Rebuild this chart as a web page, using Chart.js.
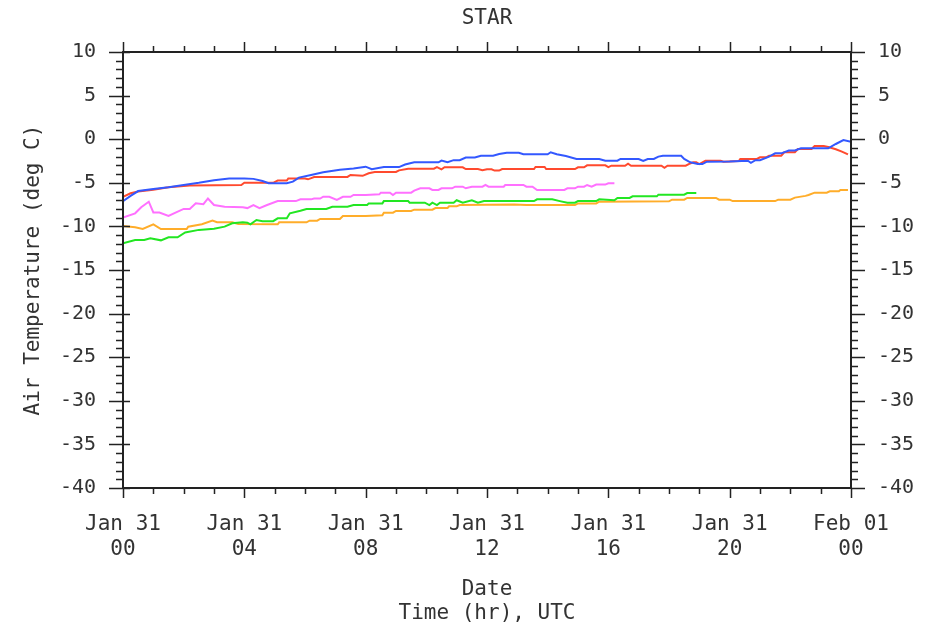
<!DOCTYPE html>
<html>
<head>
<meta charset="utf-8">
<script src="https://cdn.jsdelivr.net/npm/chart.js@4"></script>
<style>
  html, body { margin: 0; padding: 0; background: #fff; }
  #wrap { width: 930px; height: 638px; }
</style>
</head>
<body>
<div id="wrap"><canvas id="c" width="930" height="638"></canvas></div>
<script>
// x axis is hours since Jan 31 00 UTC
const xTickDays = ['Jan 31', 'Jan 31', 'Jan 31', 'Jan 31', 'Jan 31', 'Jan 31', 'Feb 01'];
const xTickHours = ['00', '04', '08', '12', '16', '20', '00'];

const blueHours = [0, 0.25, 0.5, 1, 1.5, 2, 2.5, 3, 3.5, 4, 4.3, 4.6, 4.8, 5.4, 5.6, 5.8, 6.2, 6.6, 7.15, 7.6, 8, 8.2, 8.6, 9.1, 9.3, 9.6, 10.4, 10.5, 10.7, 10.9, 11.1, 11.3, 11.6, 11.8, 12.2, 12.4, 12.65, 13.05, 13.2, 14, 14.1, 14.3, 14.6, 14.95, 15.7, 15.9, 16.3, 16.4, 17, 17.15, 17.3, 17.5, 17.65, 17.8, 18.4, 18.5, 18.7, 18.95, 19.1, 19.25, 20, 20.6, 20.7, 20.85, 21, 21.3, 21.5, 21.7, 21.95, 22.15, 22.35, 23.25, 23.5, 23.75, 24];
const blueTemps = [-7.1, -6.5, -5.95, -5.7, -5.5, -5.25, -5.0, -4.7, -4.5, -4.5, -4.55, -4.8, -5.05, -5.05, -4.87, -4.4, -4.1, -3.8, -3.5, -3.35, -3.15, -3.45, -3.2, -3.2, -2.9, -2.65, -2.65, -2.45, -2.65, -2.4, -2.4, -2.1, -2.1, -1.9, -1.9, -1.7, -1.55, -1.55, -1.73, -1.73, -1.5, -1.73, -1.93, -2.27, -2.27, -2.47, -2.47, -2.27, -2.27, -2.5, -2.27, -2.27, -2.0, -1.9, -1.9, -2.27, -2.65, -2.85, -2.85, -2.58, -2.55, -2.47, -2.7, -2.4, -2.4, -2.0, -1.62, -1.62, -1.3, -1.3, -1.05, -1.05, -0.55, -0.1, -0.3];

const redHours = [0, 0.25, 0.5, 1, 1.5, 2.2, 3.9, 4, 4.95, 5.1, 5.4, 5.45, 6, 6.1, 6.3, 7.4, 7.5, 7.9, 8.1, 8.3, 9, 9.1, 9.4, 10.25, 10.35, 10.5, 10.6, 11.2, 11.3, 11.7, 11.85, 12, 12.15, 12.25, 12.4, 12.5, 13.55, 13.6, 13.9, 13.95, 14.9, 15, 15.2, 15.3, 15.9, 16, 16.1, 16.55, 16.65, 16.75, 17.75, 17.85, 17.95, 18.55, 18.65, 18.8, 18.9, 19, 19.2, 19.7, 19.8, 20.3, 20.35, 20.9, 21, 21.2, 21.3, 21.7, 21.8, 22.15, 22.25, 22.7, 22.8, 23.1, 23.25, 23.5, 23.7, 23.9];
const redTemps = [-6.6, -6.2, -6.0, -5.8, -5.5, -5.3, -5.25, -5.0, -5.0, -4.75, -4.75, -4.5, -4.5, -4.6, -4.33, -4.33, -4.1, -4.2, -3.9, -3.76, -3.76, -3.57, -3.38, -3.38, -3.19, -3.45, -3.22, -3.22, -3.42, -3.42, -3.57, -3.45, -3.45, -3.6, -3.6, -3.42, -3.42, -3.19, -3.19, -3.42, -3.42, -3.22, -3.22, -3.0, -3.0, -3.2, -3.04, -3.04, -2.8, -3.04, -3.04, -3.27, -3.04, -3.04, -2.85, -2.65, -2.65, -2.85, -2.47, -2.47, -2.58, -2.5, -2.27, -2.27, -2.08, -2.08, -1.9, -1.9, -1.5, -1.5, -1.12, -1.12, -0.78, -0.78, -0.9, -1.16, -1.43, -1.75];

const pinkHours = [0, 0.4, 0.6, 0.85, 1, 1.2, 1.5, 1.75, 2, 2.2, 2.4, 2.65, 2.8, 3, 3.35, 3.95, 4.1, 4.3, 4.5, 4.75, 5.1, 5.7, 5.85, 6.2, 6.3, 6.5, 6.6, 6.8, 7.05, 7.25, 7.5, 7.6, 8, 8.45, 8.5, 8.8, 8.9, 9, 9.5, 9.6, 9.8, 10.1, 10.2, 10.4, 10.5, 10.85, 10.95, 11.2, 11.3, 11.5, 11.85, 11.95, 12.05, 12.55, 12.6, 13.2, 13.3, 13.5, 13.65, 14.55, 14.65, 14.9, 15, 15.2, 15.3, 15.45, 15.6, 15.9, 16, 16.2];
const pinkTemps = [-9.0, -8.5, -7.8, -7.17, -8.4, -8.4, -8.8, -8.4, -8.0, -8.0, -7.35, -7.45, -6.8, -7.55, -7.74, -7.8, -7.9, -7.55, -7.9, -7.55, -7.1, -7.1, -6.9, -6.9, -6.8, -6.8, -6.6, -6.6, -6.95, -6.6, -6.6, -6.4, -6.4, -6.32, -6.13, -6.13, -6.4, -6.13, -6.13, -5.9, -5.63, -5.63, -5.82, -5.82, -5.63, -5.63, -5.45, -5.45, -5.63, -5.45, -5.45, -5.25, -5.45, -5.45, -5.25, -5.25, -5.45, -5.45, -5.82, -5.82, -5.63, -5.63, -5.45, -5.45, -5.25, -5.45, -5.2, -5.2, -5.05, -5.05];

const greenHours = [0, 0.4, 0.7, 0.9, 1.25, 1.5, 1.8, 2.05, 2.5, 3, 3.35, 3.6, 3.95, 4.1, 4.2, 4.4, 4.6, 4.95, 5.1, 5.4, 5.5, 5.85, 6.05, 6.7, 6.9, 7.4, 7.6, 8.05, 8.1, 8.55, 8.6, 9.4, 9.45, 9.95, 10.1, 10.2, 10.35, 10.45, 10.9, 11, 11.2, 11.5, 11.7, 11.9, 13.55, 13.65, 14.15, 14.4, 14.65, 14.9, 15, 15.6, 15.7, 16.2, 16.3, 16.7, 16.8, 17.6, 17.65, 18.5, 18.6, 18.9];
const greenTemps = [-11.94, -11.56, -11.56, -11.37, -11.6, -11.25, -11.25, -10.7, -10.4, -10.26, -10.03, -9.65, -9.53, -9.57, -9.76, -9.27, -9.4, -9.4, -9.07, -9.07, -8.5, -8.2, -8.0, -8.0, -7.74, -7.74, -7.55, -7.55, -7.36, -7.36, -7.1, -7.1, -7.28, -7.28, -7.55, -7.28, -7.55, -7.28, -7.28, -7.0, -7.28, -7.0, -7.28, -7.1, -7.1, -6.9, -6.9, -7.1, -7.28, -7.28, -7.1, -7.1, -6.9, -7.0, -6.74, -6.74, -6.55, -6.55, -6.36, -6.36, -6.17, -6.17];

const orangeHours = [0, 0.4, 0.65, 1, 1.25, 2.1, 2.15, 2.6, 2.95, 3.1, 3.6, 3.8, 5.1, 5.15, 6.05, 6.15, 6.4, 6.5, 7.15, 7.25, 8, 8.55, 8.6, 8.9, 9, 9.5, 9.6, 10.2, 10.3, 10.7, 10.75, 11, 11.1, 12.9, 13.3, 14.9, 15, 15.6, 15.7, 18, 18.1, 18.5, 18.6, 19.55, 19.65, 20, 20.1, 21.5, 21.6, 22, 22.15, 22.5, 22.6, 22.8, 23.2, 23.3, 23.6, 23.65, 23.9];
const orangeTemps = [-9.95, -10.1, -10.3, -9.76, -10.3, -10.3, -10.03, -9.76, -9.34, -9.53, -9.53, -9.73, -9.76, -9.53, -9.53, -9.34, -9.34, -9.15, -9.15, -8.8, -8.8, -8.73, -8.43, -8.43, -8.23, -8.23, -8.08, -8.08, -7.89, -7.89, -7.7, -7.7, -7.55, -7.5, -7.55, -7.55, -7.36, -7.36, -7.17, -7.13, -6.93, -6.93, -6.74, -6.74, -6.93, -6.93, -7.1, -7.1, -6.93, -6.93, -6.7, -6.5, -6.4, -6.13, -6.13, -5.97, -5.97, -5.82, -5.82];

const FONT = "'DejaVu Sans Mono', monospace";
const INK = '#333';

function pts(hours, temps) {
    return hours.map((h, i) => ({ x: h, y: temps[i] }));
}

function series(hours, temps, color) {
    return {
        data: pts(hours, temps),
        borderColor: color,
        borderWidth: 2,
        pointRadius: 0,
        tension: 0,
        fill: false
    };
}

// box around the plot plus major / minor tick marks on all four sides
const frameTicks = {
    id: 'frameTicks',
    afterDraw(chart) {
        const ctx = chart.ctx;
        const a = chart.chartArea;
        const xs = chart.scales.x;
        const ys = chart.scales.y;
        ctx.save();
        ctx.strokeStyle = '#222';
        ctx.lineWidth = 2;
        ctx.strokeRect(a.left, a.top, a.right - a.left, a.bottom - a.top);
        ctx.lineWidth = 1.5;
        ctx.beginPath();
        for (let h = 0; h <= 24; h++) {
            const px = Math.round(xs.getPixelForValue(h)) + 0.5;
            const len = h % 4 === 0 ? 10 : 6;
            ctx.moveTo(px, a.bottom); ctx.lineTo(px, a.bottom + len);
            ctx.moveTo(px, a.top); ctx.lineTo(px, a.top - len);
        }
        for (let v = -40; v <= 10; v++) {
            const py = Math.round(ys.getPixelForValue(v)) + 0.5;
            const major = v % 5 === 0;
            ctx.moveTo(a.left - (major ? 14 : 7), py); ctx.lineTo(a.left + (major ? 7 : 0), py);
            ctx.moveTo(a.right, py); ctx.lineTo(a.right + (major ? 14 : 7), py);
        }
        ctx.stroke();
        ctx.restore();
    }
};

new Chart(document.getElementById('c').getContext('2d'), {
    type: 'line',
    data: {
        datasets: [
            series(blueHours, blueTemps, '#3358ff'),
            series(redHours, redTemps, '#ff4a2e'),
            series(pinkHours, pinkTemps, '#ff70ff'),
            series(greenHours, greenTemps, '#22e622'),
            series(orangeHours, orangeTemps, '#ffad2a')
        ]
    },
    options: {
        responsive: false,
        animation: false,
        layout: { padding: 0 },
        plugins: {
            legend: { display: false },
            tooltip: { enabled: false }
        },
        scales: {
            // top axis only carries the chart title, centred over the plot
            xTop: {
                type: 'linear',
                position: 'top',
                min: 0,
                max: 24,
                grid: { display: false, drawTicks: false },
                border: { display: false },
                ticks: { display: false },
                title: {
                    display: true,
                    text: 'STAR',
                    color: INK,
                    font: { family: FONT, size: 21 },
                    padding: { top: 6, bottom: 0 }
                },
                afterFit: (s) => { s.height = 52; }
            },
            x: {
                type: 'linear',
                position: 'bottom',
                min: 0,
                max: 24,
                grid: { display: false, drawTicks: false },
                border: { display: false },
                ticks: {
                    stepSize: 4,
                    autoSkip: false,
                    maxRotation: 0,
                    padding: 24,
                    color: INK,
                    font: { family: FONT, size: 21 },
                    callback: (v) => {
                        const i = Math.round(v / 4);
                        return [xTickDays[i], xTickHours[i]];
                    }
                },
                title: {
                    display: true,
                    text: ['Date', 'Time (hr), UTC'],
                    color: INK,
                    font: { family: FONT, size: 21, lineHeight: 1.15 },
                    padding: { top: 0, bottom: 12 }
                },
                afterFit: (s) => { s.height = 150; }
            },
            y: {
                position: 'left',
                min: -40,
                max: 10,
                grid: { display: false, drawTicks: false },
                border: { display: false },
                ticks: {
                    stepSize: 5,
                    padding: 27,
                    color: INK,
                    font: { family: FONT, size: 20 }
                },
                title: {
                    display: true,
                    text: 'Air Temperature (deg C)',
                    color: INK,
                    font: { family: FONT, size: 21 },
                    padding: { top: 21, bottom: 0 }
                },
                afterFit: (s) => { s.width = 123; }
            },
            y2: {
                position: 'right',
                min: -40,
                max: 10,
                grid: { display: false, drawTicks: false },
                border: { display: false },
                ticks: {
                    stepSize: 5,
                    padding: 27,
                    color: INK,
                    font: { family: FONT, size: 20 }
                },
                afterFit: (s) => { s.width = 79; }
            }
        }
    },
    plugins: [frameTicks]
});
</script>
</body>
</html>
